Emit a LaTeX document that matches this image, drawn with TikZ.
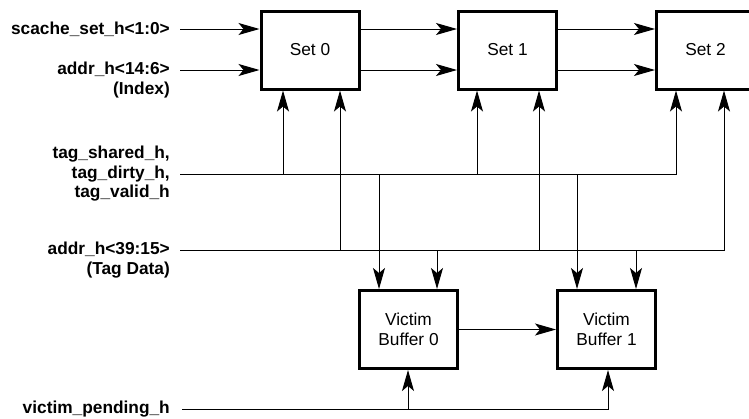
\documentclass[tikz,border=0pt]{standalone}
\usepackage{fontspec}
\setmainfont{Liberation Sans}
\usetikzlibrary{arrows.meta}
\begin{document}
\begin{tikzpicture}[x=1pt,y=-1pt,
  blk/.style={draw, line width=3pt, minimum width=98pt, minimum height=78pt, align=center, inner sep=0pt, font=\fontsize{17.3}{20}\selectfont},
  lbl/.style={anchor=east, align=right, inner sep=0pt, font=\bfseries\fontsize{17.3}{19.5}\selectfont},
  wire/.style={line width=1pt},
  arr/.style={wire, -{Stealth[length=21pt,width=12pt,inset=5pt]}}]
\useasboundingbox (0,0) rectangle (749,418);
\clip (0,0) rectangle (749,418);
% blocks
\node[blk] (s0) at (310,50) {Set 0};
\node[blk] (s1) at (507.5,50) {Set 1};
\node[blk] (s2) at (705.5,50) {Set 2};
\node[blk] (v0) at (408.5,329.5) {Victim\\Buffer 0};
\node[blk] (v1) at (606.5,329.5) {Victim\\Buffer 1};
% labels
\node[lbl] (lset) at (170,29) {scache\_set\_h<1:0>};
\node[lbl] (lidx) at (170,80) {addr\_h<14:6>\\(Index)};
\node[lbl] (ltag) at (170,174) {tag\_shared\_h,\\tag\_dirty\_h,\\tag\_valid\_h};
\node[lbl] (laddr) at (170,260) {addr\_h<39:15>\\(Tag Data)};
\node[lbl] (lvp) at (170,409) {victim\_pending\_h};
% wire start points
\coordinate (p1) at (180,29);
\coordinate (p2) at (180,70);
\coordinate (p3) at (180,174);
\coordinate (p4) at (180,250);
\coordinate (p5) at (182,409);
% set / index chains
\draw[arr] (p1) -- (p1 -| s0.west);
\draw[arr] (s0.east |- p1) -- (s1.west |- p1);
\draw[arr] (s1.east |- p1) -- (s2.west |- p1);
\draw[arr] (p2) -- (p2 -| s0.west);
\draw[arr] (s0.east |- p2) -- (s1.west |- p2);
\draw[arr] (s1.east |- p2) -- (s2.west |- p2);
% tag status bus
\coordinate (t0) at (283,174);
\coordinate (t1) at (477,174);
\coordinate (t2) at (676,174);
\coordinate (td0) at (379,174);
\coordinate (td1) at (577,174);
\draw[arr] (p3) -- (t2) -- (t2 |- s2.south);
\draw[arr] (t0) -- (t0 |- s0.south);
\draw[arr] (t1) -- (t1 |- s1.south);
\draw[arr] (td0) -- (td0 |- v0.north);
\draw[arr] (td1) -- (td1 |- v1.north);
% tag data bus
\coordinate (a0) at (340,250);
\coordinate (a1) at (539,250);
\coordinate (a2) at (724,250);
\coordinate (ad0) at (437,250);
\coordinate (ad1) at (636,250);
\draw[arr] (p4) -- (a2) -- (a2 |- s2.south);
\draw[arr] (a0) -- (a0 |- s0.south);
\draw[arr] (a1) -- (a1 |- s1.south);
\draw[arr] (ad0) -- (ad0 |- v0.north);
\draw[arr] (ad1) -- (ad1 |- v1.north);
% victim buffers
\draw[arr] (v0.east) -- (v1.west);
\coordinate (q0) at (408,409);
\coordinate (q1) at (608,409);
\draw[arr] (p5) -- (q1) -- (q1 |- v1.south);
\draw[arr] (q0) -- (q0 |- v0.south);
\end{tikzpicture}
\end{document}
